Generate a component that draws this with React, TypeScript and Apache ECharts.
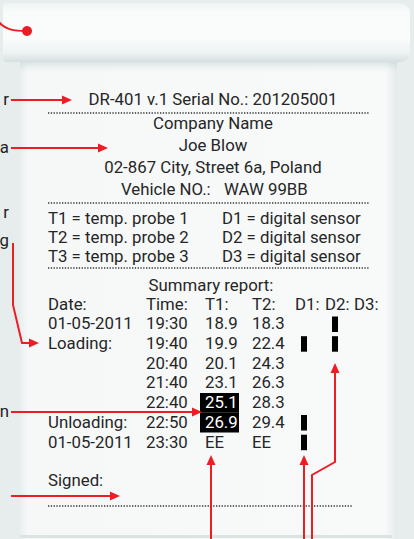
import React, { useEffect, useRef } from "react";
import * as echarts from "echarts";

// ---- data ----
const headerLines = ["Company Name", "Joe Blow", "02-867 City, Street 6a, Poland"];
const deviceLine = "DR-401 v.1 Serial No.: 201205001";
const vehicleLabel = "Vehicle NO.:";
const vehicleValue = "WAW 99BB";
const probeLegend = ["T1 = temp. probe 1", "T2 = temp. probe 2", "T3 = temp. probe 3"];
const sensorLegend = ["D1 = digital sensor", "D2 = digital sensor", "D3 = digital sensor"];
const summaryTitle = "Summary report:";
const columnHeaders = ["Date:", "Time:", "T1:", "T2:", "D1:", "D2:", "D3:"];
const dates = ["01-05-2011", "Loading:", "", "", "", "Unloading:", "01-05-2011"];
const times = ["19:30", "19:40", "20:40", "21:40", "22:40", "22:50", "23:30"];
const t1Values: (number | null)[] = [18.9, 19.9, 20.1, 23.1, 25.1, 26.9, null];
const t2Values: (number | null)[] = [18.3, 22.4, 24.3, 26.3, 28.3, 29.4, null];
const d1States = [0, 1, 0, 0, 0, 1, 1];
const d2States = [1, 1, 0, 0, 0, 0, 0];
const d3States = [0, 0, 0, 0, 0, 0, 0];
const t1Alarm = [false, false, false, false, true, true, false];
const signedLabel = "Signed:";
const sideLabels = [
  { t: "r", y: 100 },
  { t: "a", y: 148 },
  { t: "r", y: 213 },
  { t: "g", y: 241 },
  { t: "n", y: 412 },
];

const FONT = 'Roboto, "Open Sans", sans-serif';
const INK = "#262626";
const RED = "#ee1c24";
const FS = 16;
const SX = 1.05;

function txt(text: string, x: number, y: number, align = "left", fill = INK, size = FS): any {
  return {
    type: "text",
    x,
    y,
    scaleX: SX,
    z: 10,
    style: {
      text,
      fill,
      fontSize: size,
      fontFamily: FONT,
      lineHeight: 16,
      align,
      textAlign: align,
      verticalAlign: "middle",
      textVerticalAlign: "middle",
    },
  };
}

function dotted(x1: number, x2: number, y: number): any {
  return {
    type: "line",
    z: 10,
    shape: { x1, y1: y, x2, y2: y },
    style: { stroke: "#333", lineWidth: 1.5, lineDash: [1.3, 1.5] },
  };
}

function arrowRight(x0: number, tip: number, y: number): any[] {
  return [
    { type: "line", z: 20, shape: { x1: x0, y1: y, x2: tip - 6, y2: y }, style: { stroke: RED, lineWidth: 2 } },
    { type: "polygon", z: 20, shape: { points: [[tip, y], [tip - 10, y - 4.5], [tip - 10, y + 4.5]] }, style: { fill: RED } },
  ];
}

function arrowUpPoly(points: number[][]): any[] {
  const tip = points[points.length - 1];
  const pts = points.slice();
  pts[pts.length - 1] = [tip[0], tip[1] + 6];
  return [
    { type: "polyline", z: 20, shape: { points: pts }, style: { stroke: RED, lineWidth: 2, fill: null } },
    {
      type: "polygon",
      z: 20,
      shape: { points: [[tip[0], tip[1]], [tip[0] - 4.5, tip[1] + 10], [tip[0] + 4.5, tip[1] + 10]] },
      style: { fill: RED },
    },
  ];
}

export default function App() {
  const ref = useRef<HTMLDivElement>(null);
  useEffect(() => {
    document.body.style.margin = "0";
    const chart = echarts.init(ref.current!, null, { renderer: "svg" });
    const g: any[] = [];

    // background
    g.push({ type: "rect", z: 0, shape: { x: 0, y: 0, width: 414, height: 539 }, style: { fill: "#e7eded" } });
    // paper body
    g.push({
      type: "rect",
      z: 1,
      shape: { x: 20, y: 50, width: 377, height: 489 },
      style: {
        fill: {
          type: "linear", x: 0, y: 0, x2: 1, y2: 0,
          colorStops: [
            { offset: 0, color: "#e9eeee" },
            { offset: 0.02, color: "#f6f8f8" },
            { offset: 0.97, color: "#f8fafa" },
            { offset: 1, color: "#e3e9e9" },
          ],
        },
      },
    });
    // shadow under roll
    g.push({
      type: "rect",
      z: 2,
      shape: { x: 20, y: 58, width: 377, height: 14 },
      style: {
        fill: {
          type: "linear", x: 0, y: 0, x2: 0, y2: 1,
          colorStops: [
            { offset: 0, color: "rgba(170,190,192,0.55)" },
            { offset: 1, color: "rgba(200,215,215,0)" },
          ],
        },
      },
    });
    // roll
    g.push({
      type: "rect",
      z: 3,
      shape: { x: 3, y: 3, width: 407, height: 59, r: [4, 10, 10, 4] },
      style: {
        fill: {
          type: "linear", x: 0, y: 0, x2: 0, y2: 1,
          colorStops: [
            { offset: 0, color: "#eef3f3" },
            { offset: 0.15, color: "#f9fbfb" },
            { offset: 0.6, color: "#fbfcfc" },
            { offset: 0.85, color: "#edf2f2" },
            { offset: 1, color: "#d5dfe0" },
          ],
        },
      },
    });
    // torn bottom edge
    const torn: number[][] = [];
    for (let x = 20; x <= 397; x += 6) torn.push([x, 535 + ((x / 6) % 2 === 0 ? 0 : 1.5)]);
    g.push({ type: "polyline", z: 4, shape: { points: torn }, style: { stroke: "#dbe3e3", lineWidth: 3, fill: null } });

    // header
    g.push(txt(deviceLine, 213, 100, "center"));
    g.push(dotted(48, 369, 113));
    const headerY = [124, 146, 168];
    headerLines.forEach((t, i) => g.push(txt(t, 213, headerY[i], "center")));
    g.push(txt(vehicleLabel, 121, 190));
    g.push(txt(vehicleValue, 224, 190));
    g.push(dotted(48, 369, 203));
    const legY = [219, 238, 257];
    probeLegend.forEach((t, i) => g.push(txt(t, 48, legY[i])));
    sensorLegend.forEach((t, i) => g.push(txt(t, 222, legY[i])));
    g.push(dotted(48, 369, 268));
    g.push(txt(summaryTitle, 211, 286, "center"));

    const colX = [48, 146, 205, 252, 295, 325, 354];
    columnHeaders.forEach((t, i) => g.push(txt(t, colX[i], 305)));
    const rowY0 = 324;
    const rowStep = 19.7;
    const fmt = (v: number | null) => (v === null ? "EE" : v.toFixed(1));
    const blockX = [301, 332, 361];
    times.forEach((tm, i) => {
      const y = rowY0 + i * rowStep;
      if (dates[i]) g.push(txt(dates[i], 48, y));
      g.push(txt(tm, 146, y));
      if (t1Alarm[i]) {
        g.push({ type: "rect", z: 9, shape: { x: 200, y: y - 9.8, width: 39, height: 19.7 }, style: { fill: "#000" } });
        g.push(txt(fmt(t1Values[i]), 205, y, "left", "#fff"));
      } else {
        g.push(txt(fmt(t1Values[i]), 205, y));
      }
      g.push(txt(fmt(t2Values[i]), 252, y));
      [d1States, d2States, d3States].forEach((arr, k) => {
        if (arr[i]) g.push({ type: "rect", z: 9, shape: { x: blockX[k], y: y - 7.5, width: 6, height: 15.5 }, style: { fill: "#000" } });
      });
    });

    g.push(txt(signedLabel, 48, 481));
    g.push(dotted(48, 353, 506));

    // annotations
    sideLabels.forEach((s) => g.push(txt(s.t, 9, s.y, "right", "#222", 16)));
    g.push({
      type: "bezierCurve",
      z: 20,
      shape: { x1: -2, y1: 21, cpx1: 5, cpy1: 30, cpx2: 14, cpy2: 31, x2: 27, y2: 31 },
      style: { stroke: RED, lineWidth: 2, fill: null },
    });
    g.push({ type: "circle", z: 20, shape: { cx: 27, cy: 31, r: 5 }, style: { fill: RED } });
    g.push(...arrowRight(11, 72, 100));
    g.push(...arrowRight(11, 108, 148));
    g.push({ type: "polyline", z: 20, shape: { points: [[13, 243], [13, 305], [22, 343], [32, 343]] }, style: { stroke: RED, lineWidth: 2, fill: null } });
    g.push({ type: "polygon", z: 20, shape: { points: [[39, 343], [29, 338.5], [29, 347.5]] }, style: { fill: RED } });
    g.push(...arrowRight(11, 202, 412));
    g.push(...arrowRight(11, 120, 496));
    g.push(...arrowUpPoly([[211, 545], [211, 455]]));
    g.push(...arrowUpPoly([[304, 545], [304, 455]]));
    g.push(...arrowUpPoly([[312, 545], [312, 475], [335, 462], [335, 363]]));

    chart.setOption({ animation: false, graphic: { elements: g } });
    return () => chart.dispose();
  }, []);
  return <div ref={ref} style={{ width: 414, height: 539 }} />;
}
